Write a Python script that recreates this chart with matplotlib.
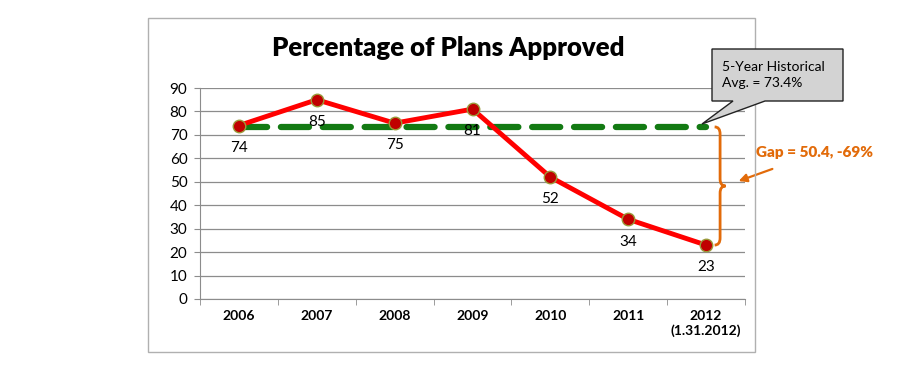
import matplotlib
matplotlib.use("Agg")
import matplotlib.pyplot as plt
from matplotlib.patches import Polygon, Rectangle, PathPatch
from matplotlib.path import Path

years = ["2006", "2007", "2008", "2009", "2010", "2011", "2012\n(1.31.2012)"]
approved = [74, 85, 75, 81, 52, 34, 23]
hist_avg = 73.4
y_ticks = [0, 10, 20, 30, 40, 50, 60, 70, 80, 90]
callout_text = "5-Year Historical\nAvg. = 73.4%"
gap_text = "Gap = 50.4, -69%"

plt.rcParams['font.family'] = ['Lato', 'DejaVu Sans']

W, H = 898, 375
fig = plt.figure(figsize=(W / 100, H / 100), dpi=100)

def fx(px):
    return px / W

def fy(py):
    return 1 - py / H

# outer chart frame
fig.patches.append(Rectangle((fx(148), fy(352)), fx(755) - fx(148), fy(18) - fy(352),
                             transform=fig.transFigure, fill=False, edgecolor="#b0b0b0", lw=1))

ax = fig.add_axes([fx(200), fy(299), fx(745) - fx(200), fy(88) - fy(299)])
x = list(range(len(years)))

ax.set_ylim(0, 90)
ax.set_xlim(-0.5, len(years) - 0.5)
ax.set_yticks(y_ticks)
ax.yaxis.grid(True, color="#8c8c8c", lw=0.9)
ax.set_axisbelow(True)
ax.set_xticks(x)
ax.set_xticklabels(years, fontsize=10, fontweight="bold")
ax.set_xticks([i - 0.5 for i in range(len(years) + 1)], minor=True)
ax.tick_params(axis="x", which="major", length=0, pad=8)
ax.tick_params(axis="x", which="minor", length=4, color="#8c8c8c")
ax.tick_params(axis="y", length=4, color="#8c8c8c", labelsize=11, pad=5)
for s in ["top", "right"]:
    ax.spines[s].set_visible(False)
for s in ["left", "bottom"]:
    ax.spines[s].set_color("#8c8c8c")

# historical average
ax.plot([x[0], x[-1]], [hist_avg, hist_avg], color="#137a13", lw=4.5,
        dashes=(4.5, 2.2), solid_capstyle="round", dash_capstyle="round", zorder=2)

ax.plot(x, approved, color="#ff0000", lw=3.5, marker="o", markersize=9,
        markerfacecolor="#c00000", markeredgecolor="#9a9a3a", markeredgewidth=1, zorder=3)

for xi, v in zip(x, approved):
    ax.annotate(str(v), (xi, v), xytext=(0, -16), textcoords="offset points",
                ha="center", va="center", fontsize=11, zorder=4)

fig.text(fx(448), fy(48), "Percentage of Plans Approved", ha="center", va="center",
         fontsize=18.5, fontweight="heavy")

# brace
bx = x[-1] + 0.18
top, bot = hist_avg, approved[-1]
mid = (top + bot) / 2
w = 0.07
verts = [
    (bx - w, top),
    (bx, top), (bx, top - 3),
    (bx, mid + 3),
    (bx, mid), (bx + w, mid),
    (bx, mid), (bx, mid - 3),
    (bx, bot + 3),
    (bx, bot), (bx - w, bot),
]
codes = [Path.MOVETO,
         Path.CURVE3, Path.CURVE3,
         Path.LINETO,
         Path.CURVE3, Path.CURVE3,
         Path.CURVE3, Path.CURVE3,
         Path.LINETO,
         Path.CURVE3, Path.CURVE3]
ax.add_patch(PathPatch(Path(verts, codes), fill=False, edgecolor="#e26b0a", lw=2,
                       clip_on=False, zorder=5))

fig.text(fx(814), fy(153), gap_text, ha="center", va="center", fontsize=11,
         fontweight="heavy", color="#e26b0a")
ax.annotate("", xy=(fx(736), fy(182)), xycoords="figure fraction",
            xytext=(fx(775), fy(168)), textcoords="figure fraction",
            arrowprops=dict(arrowstyle="-|>", color="#e26b0a", lw=1.6, mutation_scale=12))

# callout box
pts = [(712, 49), (843, 49), (843, 101), (765, 101), (702, 124), (733, 101), (712, 101)]
fig.patches.append(Polygon([(fx(a), fy(b)) for a, b in pts], closed=True,
                           transform=fig.transFigure, facecolor="#d3d3d3",
                           edgecolor="#222222", lw=1, zorder=10))
fig.text(fx(722), fy(75), callout_text, ha="left", va="center", fontsize=10,
         linespacing=1.45, zorder=11)

fig.savefig("out.png", dpi=100, facecolor="white")
